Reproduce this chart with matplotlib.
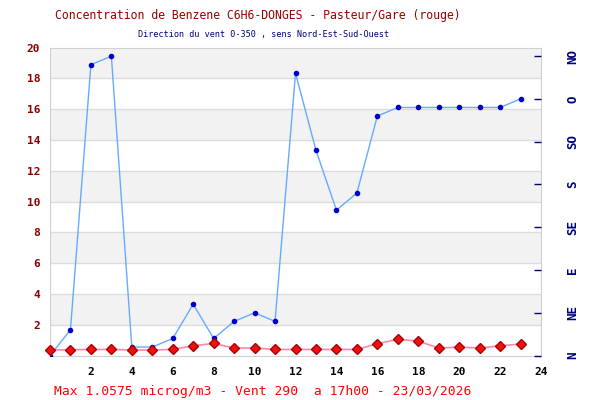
import matplotlib
matplotlib.use("Agg")
import matplotlib.pyplot as plt

hours = list(range(24))
benzene = [0.36, 0.38, 0.40, 0.40, 0.36, 0.36, 0.40, 0.64, 0.79, 0.49, 0.49, 0.40,
           0.40, 0.40, 0.40, 0.40, 0.77, 1.0575, 0.94, 0.49, 0.55, 0.49, 0.64, 0.75]
wind = [0, 30, 340, 350, 10, 10, 20, 60, 20, 40, 50, 40,
        330, 240, 170, 190, 280, 290, 290, 290, 290, 290, 290, 300]
dir_ticks = [0, 50, 100, 150, 200, 250, 300, 350]
dir_labels = ["N", "NE", "E", "SE", "S", "SO", "O", "NO"]

mono = "DejaVu Sans Mono"
pos = [0.0833, 0.111, 0.8184, 0.77]
fig = plt.figure(figsize=(6, 4), dpi=100)
ax = fig.add_axes(pos)

# grey bands every other 2 units
for lo in range(2, 20, 4):
    ax.axhspan(lo, lo + 2, color="#f2f2f2", zorder=0, lw=0)
for y in range(2, 20, 2):
    ax.axhline(y, color="#dcdcdc", lw=1, zorder=1)

ax.set_xlim(0, 24)
ax.set_ylim(0, 20)
ax.set_xticks(range(2, 25, 2))
ax.set_yticks(range(2, 21, 2))
ax.tick_params(axis="x", length=0, pad=8, labelsize=8, labelcolor="black")
ax.tick_params(axis="y", length=0, pad=7, labelsize=8, labelcolor="#8b0000")
for lab in ax.get_xticklabels() + ax.get_yticklabels():
    lab.set_family(mono)
    lab.set_weight("bold")
for s in ax.spines.values():
    s.set_color("#d0d0d0")

# wind direction on the right scale
ax2 = ax.twinx()
ax2.set_ylim(0, 360)
ax2.set_yticks(dir_ticks)
ax2.set_yticklabels(dir_labels, rotation=90, va="center", family=mono,
                    weight="bold", fontsize=9, color="#000080")
ax2.tick_params(axis="y", direction="in", length=5, width=1, color="#000080", pad=18)
for s in ax2.spines.values():
    s.set_visible(False)
ax2.plot(hours, wind, color="#66aaff", lw=1, marker="o", markersize=3,
         markerfacecolor="#0000cc", markeredgecolor="#0000cc")

# benzene on top
ax3 = fig.add_axes(pos)
ax3.set_xlim(0, 24)
ax3.set_ylim(0, 20)
ax3.set_axis_off()
ax3.patch.set_visible(False)
ax3.plot(hours, benzene, color="#ff88aa", lw=1.2, marker="D", markersize=5.5,
         markerfacecolor="#ee1111", markeredgecolor="#aa0000", clip_on=False)

fig.text(0.43, 0.9625, "Concentration de Benzene C6H6-DONGES - Pasteur/Gare (rouge)",
         ha="center", va="center", family=mono, fontsize=8.3, color="#990000")
fig.text(0.44, 0.9125, "Direction du vent 0-350 , sens Nord-Est-Sud-Ouest",
         ha="center", va="center", family=mono, fontsize=6.1, color="#000080")
fig.text(0.437, 0.0225, "Max 1.0575 microg/m3 - Vent 290  a 17h00 - 23/03/2026",
         ha="center", va="center", family=mono, fontsize=9.4, color="#ff0000")

fig.savefig("out.png", dpi=100)
